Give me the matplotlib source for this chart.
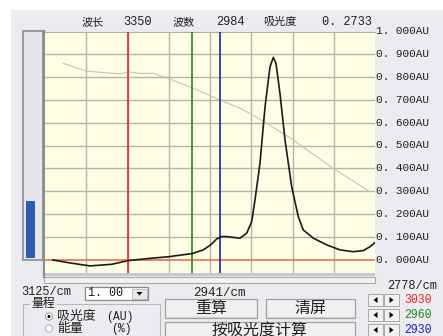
import numpy as np
import matplotlib
matplotlib.use("Agg")
import matplotlib.pyplot as plt
from matplotlib.patches import Rectangle, Circle, Polygon

W, H = 443, 336

# measured spectrum: absorbance (AU) against wavenumber (cm^-1)
wavenumber = [3111.6, 3092.9, 3071.2, 3047.6, 3030.0, 3006.1, 2986.2, 2960.2,
              2948.3, 2940.2, 2933.7, 2928.3, 2922.9, 2908.5, 2901.2, 2895.8,
              2892.2, 2886.8, 2881.3, 2875.9, 2872.3, 2869.4, 2865.1, 2859.6,
              2852.4, 2845.2, 2839.8, 2828.9, 2814.4, 2800.0, 2785.6, 2774.7,
              2767.4, 2762.0]
absorbance = [0.000, -0.013, -0.026, -0.019, -0.003, 0.007, 0.014, 0.028,
              0.044, 0.066, 0.092, 0.102, 0.102, 0.095, 0.117, 0.167,
              0.262, 0.422, 0.669, 0.844, 0.885, 0.859, 0.728, 0.524,
              0.320, 0.189, 0.131, 0.095, 0.066, 0.044, 0.036, 0.041,
              0.058, 0.076]

# energy trace drawn behind the spectrum
energy_wn = [3100.1, 3074.8, 3038.6, 3029.6, 3016.9, 3002.5, 2986.2, 2959.1,
             2930.2, 2908.5, 2897.6, 2879.5, 2850.6, 2807.3, 2767.4]
energy_val = [0.859, 0.825, 0.813, 0.822, 0.815, 0.815, 0.793, 0.750,
              0.699, 0.663, 0.640, 0.597, 0.524, 0.400, 0.298]

# cursor positions (cm^-1) and their colours
cursor_wn = [3030, 2960, 2930]
cursor_labels = ["3030", "2960", "2930"]
cursor_colors = ["#e02828", "#1a8a1a", "#1c1cc0"]

# axis scale
y_ticks = [0.0, 0.1, 0.2, 0.3, 0.4, 0.5, 0.6, 0.7, 0.8, 0.9, 1.0]
y_tick_labels = ["0. 000AU", "0. 100AU", "0. 200AU", "0. 300AU", "0. 400AU",
                 "0. 500AU", "0. 600AU", "0. 700AU", "0. 800AU", "0. 900AU",
                 "1. 000AU"]
x_left, x_right = 3120, 2762
range_left_label = "3125/cm"
range_mid_label = "2941/cm"
range_right_label = "2778/cm"

# readout in the header
header_items = [("波长", 82), ("3350", 123), ("波数", 173), ("2984", 216),
                ("吸光度", 263), ("0. 2733", 322)]
scale_options = ["1. 00"]

CJK = ["Noto Sans CJK SC", "DejaVu Sans"]
MONO = ["Liberation Mono", "Noto Sans CJK SC"]
INK = "#202020"

fig = plt.figure(figsize=(W / 100, H / 100), dpi=100, facecolor="white")

ui = fig.add_axes([0, 0, 1, 1])
ui.set_xlim(0, W)
ui.set_ylim(H, 0)
ui.axis("off")

panel = "#ececf0"
ui.add_patch(Rectangle((11, 10), W - 11, H - 10, fc=panel, ec="none"))

# header readout
for txt, x in header_items:
    cjk = any(ord(c) > 255 for c in txt)
    ui.text(x, 22, txt, fontsize=8 if cjk else 8.6, family=CJK if cjk else MONO,
            va="center", ha="left", color=INK)

# vertical level slider on the left
ui.add_patch(Rectangle((23, 31), 20, 229, fc="#e6e6ec", ec="#949494", lw=1.3))
ui.add_patch(Rectangle((26, 201), 9, 57, fc="#2f5cb2", ec="none"))
ui.plot([44, 44], [31, 277], color="#8c8c8c", lw=1.6)

# strip under the plot
ui.add_patch(Rectangle((44, 273), 331, 3, fc="#c8c8cc", ec="none"))
ui.add_patch(Rectangle((44, 277), 331, 6, fc="#f2f2f4", ec="#a8a8a8", lw=0.8))

# right-hand value labels
for v, lab in zip(y_ticks, y_tick_labels):
    y = 260 - v * 229
    ui.text(376, y, lab, fontsize=8, family=MONO, va="center", ha="left",
            color=INK)

# range labels
ui.text(21, 292, range_left_label, fontsize=8.6, family=MONO, va="center",
        ha="left", color=INK)
ui.text(193, 292.5, range_mid_label, fontsize=9, family=MONO, va="center",
        ha="left", color=INK)
ui.text(387, 286, range_right_label, fontsize=8.6, family=MONO, va="center",
        ha="left", color=INK)

# scale combo box
ui.add_patch(Rectangle((85, 287), 63, 13, fc="white", ec="#8a8a8a", lw=0.9))
ui.text(88, 293.5, scale_options[0], fontsize=8.5, family=MONO, va="center",
        ha="left", color=INK)
ui.add_patch(Rectangle((132, 288.5), 15, 10, fc="#e8e8ec", ec="#b0b0b0", lw=0.6))
ui.add_patch(Polygon([[136.5, 292], [142.5, 292], [139.5, 295.5]], fc="black"))

# range group box
ui.plot([29, 23, 23], [304, 304, H], color="#b8b8b8", lw=0.8)
ui.plot([57, 160, 160], [304, 304, H], color="#b8b8b8", lw=0.8)
ui.text(31, 304, "量程", fontsize=8.6, family=CJK, va="center", ha="left",
        color=INK)
ui.add_patch(Circle((49, 316.5), 3.6, fc="white", ec="#a0a0a0", lw=0.8))
ui.add_patch(Circle((49, 316.5), 1.5, fc="black", ec="none"))
ui.text(57, 316.5, "吸光度", fontsize=9.3, family=CJK, va="center", ha="left",
        color=INK)
ui.text(106, 317, "(AU)", fontsize=8.3, family=MONO, va="center", ha="left",
        color=INK)
ui.add_patch(Circle((49, 328.5), 3.6, fc="white", ec="#b8b8b8", lw=0.8))
ui.text(57, 328.5, "能量", fontsize=9.3, family=CJK, va="center", ha="left",
        color=INK)
ui.text(111, 329, "(%)", fontsize=8.3, family=MONO, va="center", ha="left",
        color=INK)


def button(x0, y0, w, h, label, size, ty=None):
    ui.add_patch(Rectangle((x0, y0), w, h, fc="#f0f0f2", ec="#a0a0a0", lw=0.9))
    ui.plot([x0 + 1, x0 + w - 1], [y0 + h - 1, y0 + h - 1], color="#d0d0d4", lw=0.8)
    ui.text(x0 + w / 2, ty if ty is not None else y0 + h / 2, label,
            fontsize=size, family=CJK, va="center", ha="center", color=INK)


button(165, 299, 92, 19, "重算", 11.5)
button(266, 299, 89, 19, "清屏", 11.5)
button(165, 322, 190, 20, "按吸光度计算", 11.5, ty=330.5)

# cursor stepper buttons
for i, (lab, col) in enumerate(zip(cursor_labels, cursor_colors)):
    yc = 300 + i * 15
    for j, x0 in enumerate((368, 384)):
        ui.add_patch(Rectangle((x0, yc - 6), 15, 12, fc="#f0f0f2", ec="#a8a8a8",
                               lw=0.7))
        cx = x0 + 7.5
        if j == 0:
            tri = [[cx + 2, yc - 3], [cx + 2, yc + 3], [cx - 2, yc]]
        else:
            tri = [[cx - 2, yc - 3], [cx - 2, yc + 3], [cx + 2, yc]]
        ui.add_patch(Polygon(tri, fc="black", ec="none"))
    ui.text(404, yc, lab, fontsize=8.3, family=MONO, va="center", ha="left",
            color=col)

# spectrum plot
ax = fig.add_axes([45 / W, 1 - 273 / H, 330 / W, 241 / H])
ax.set_facecolor("#fefee4")
ax.set_xlim(x_left, x_right)
ax.set_ylim(-0.057, 0.996)
for v in y_ticks[1:]:
    ax.axhline(v, color="#b4b4aa", lw=1.0, zorder=1)
for xv in np.linspace(x_left, x_right, 9)[1:-1]:
    ax.axvline(xv, color="#b4b4aa", lw=1.0, zorder=1)
ax.axhline(0.0, color="#e8623e", lw=1.1, zorder=2)
for xv, col in zip(cursor_wn, cursor_colors):
    ax.axvline(xv, color=col, lw=1.2, zorder=3)
ax.plot(energy_wn, energy_val, color="#c4c4bc", lw=0.8, zorder=2)
ax.plot(wavenumber, absorbance, color="#1a1a1a", lw=1.2, zorder=4)
ax.set_xticks([])
ax.set_yticks([])
for s in ax.spines.values():
    s.set_visible(False)
ax.spines["top"].set_visible(True)
ax.spines["top"].set_color("#b0b0a8")
ax.spines["top"].set_linewidth(0.8)

fig.savefig("out.png", dpi=100, facecolor="white")
